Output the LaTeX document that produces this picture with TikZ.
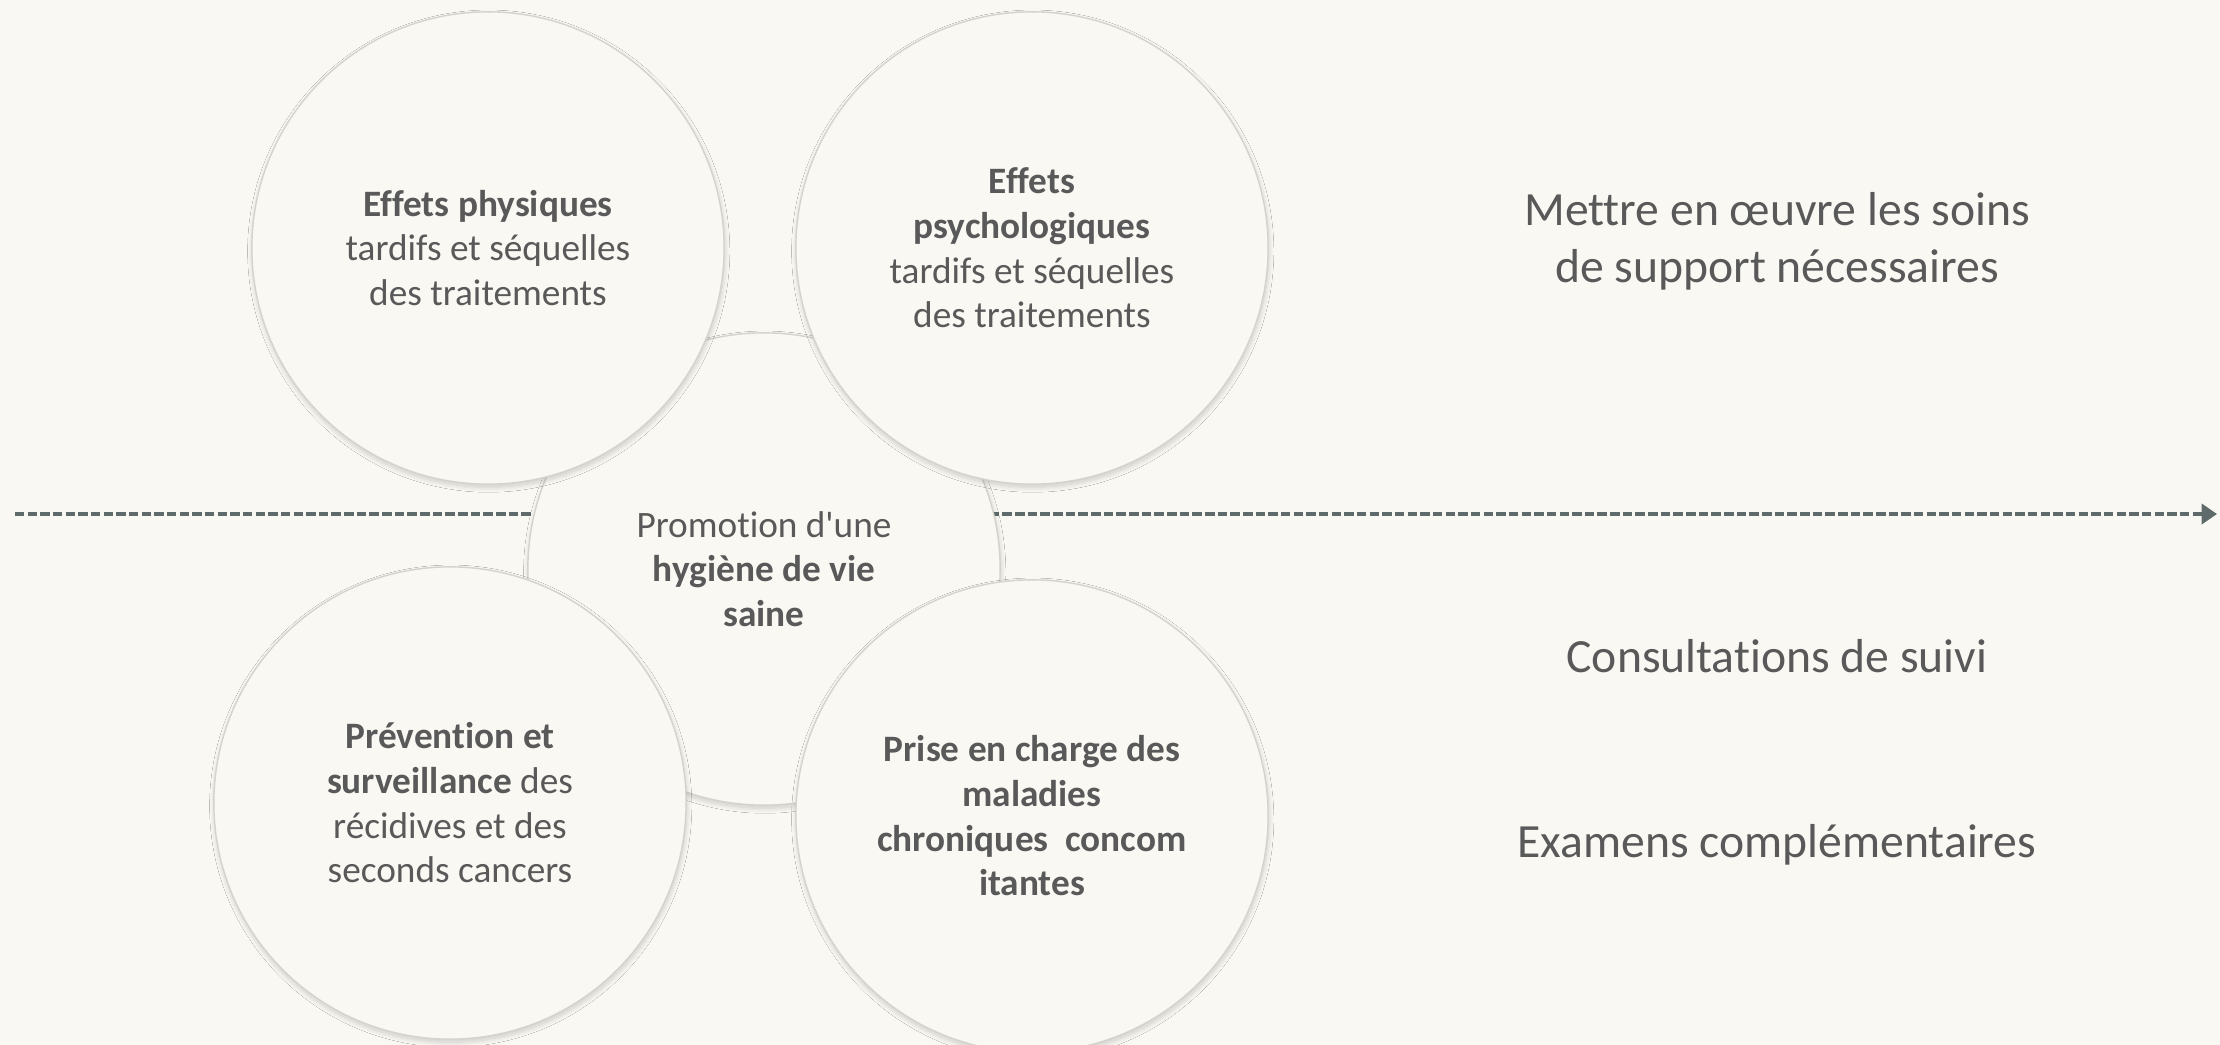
\documentclass[tikz,border=0pt]{standalone}
\usepackage{fontspec}
\newfontfamily\carlito{Carlito}[Ligatures=NoCommon]
\usetikzlibrary{shadows.blur,arrows.meta}
\definecolor{bg}{RGB}{250,248,243}
\definecolor{txt}{RGB}{89,89,89}
\definecolor{ring}{RGB}{214,211,205}
\definecolor{axis}{RGB}{95,107,107}
\tikzset{
  bubble/.style={circle, minimum size=4.72cm, inner sep=0pt, fill=bg, draw=ring, line width=0.4pt,
    blur shadow={shadow xshift=0.2pt, shadow yshift=-0.9pt, shadow blur radius=1.4pt, shadow blur steps=16, shadow opacity=18},
    align=center, text=txt, font=\carlito\fontsize{10.6}{12.7}\selectfont},
  side/.style={align=center, text=txt, font=\carlito\fontsize{13.55}{16.2}\selectfont},
  timeline/.style={draw=axis, line width=0.9pt, dash pattern=on 2.7pt off 0.9pt,
    -{Triangle[length=4.4pt,width=5.8pt]}}
}
\begin{document}
\begin{tikzpicture}[x=0.01cm, y=-0.01cm]
  \fill[bg] (0,0) rectangle (2220,1045);
  \useasboundingbox (0,0) rectangle (2220,1045);
  \coordinate (start) at (15,514);
  \coordinate (end) at (2217,514);
  \draw[timeline] (start) -- (end);

  \node[bubble] (hyg) at (764,569) {Promotion d'une\\\textbf{hygiène de vie}\\\textbf{saine}};
  \node[bubble] (phys) at (488,248) {\textbf{Effets physiques}\\tardifs et séquelles\\des traitements};
  \node[bubble] (psy) at (1032,248) {\textbf{Effets}\\\textbf{psychologiques}\\tardifs et séquelles\\des traitements};
  \node[bubble] (prev) at (450,803) {\textbf{Prévention et}\\\textbf{surveillance} des\\récidives et des\\seconds cancers};
  \node[bubble] (chron) at (1032,816) {\textbf{Prise en charge des}\\\textbf{maladies}\\\textbf{chroniques\ \ concom}\\\textbf{itantes}};

  \node[side] (soins) at (1777,241) {Mettre en œuvre les soins\\de support nécessaires};
  \node[side] (consult) at (1777,656) {Consultations de suivi};
  \node[side] (exam) at (1777,845) {Examens complémentaires};
\end{tikzpicture}
\end{document}
